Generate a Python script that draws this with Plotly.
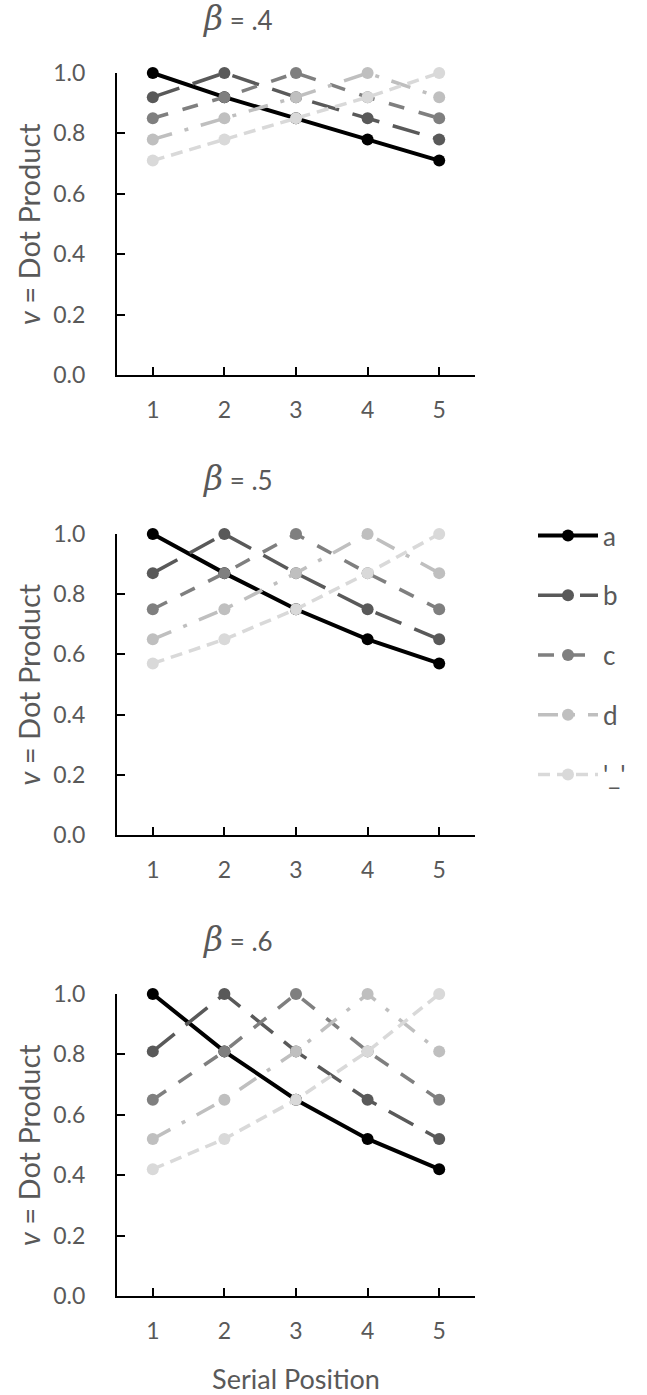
import plotly.graph_objects as go
from plotly.subplots import make_subplots

positions = [1, 2, 3, 4, 5]
series_names = ["a", "b", "c", "d", "'_'"]

# beta = .4
b04_a = [1.00, 0.92, 0.85, 0.78, 0.71]
b04_b = [0.92, 1.00, 0.92, 0.85, 0.78]
b04_c = [0.85, 0.92, 1.00, 0.92, 0.85]
b04_d = [0.78, 0.85, 0.92, 1.00, 0.92]
b04_e = [0.71, 0.78, 0.85, 0.92, 1.00]

# beta = .5
b05_a = [1.00, 0.87, 0.75, 0.65, 0.57]
b05_b = [0.87, 1.00, 0.87, 0.75, 0.65]
b05_c = [0.75, 0.87, 1.00, 0.87, 0.75]
b05_d = [0.65, 0.75, 0.87, 1.00, 0.87]
b05_e = [0.57, 0.65, 0.75, 0.87, 1.00]

# beta = .6
b06_a = [1.00, 0.81, 0.65, 0.52, 0.42]
b06_b = [0.81, 1.00, 0.81, 0.65, 0.52]
b06_c = [0.65, 0.81, 1.00, 0.81, 0.65]
b06_d = [0.52, 0.65, 0.81, 1.00, 0.81]
b06_e = [0.42, 0.52, 0.65, 0.81, 1.00]

beta_labels = [".4", ".5", ".6"]
y_title = "<i>v</i> = Dot Product"
x_title = "Serial Position"
panels = [
    [b04_a, b04_b, b04_c, b04_d, b04_e],
    [b05_a, b05_b, b05_c, b05_d, b05_e],
    [b06_a, b06_b, b06_c, b06_d, b06_e],
]

colors = ["#000000", "#595959", "#7f7f7f", "#bfbfbf", "#d9d9d9"]
dashes = ["solid", "28px,14px", "16px,15px", "20px,13px,4px,13px", "12px,7px"]
widths = [4, 3.5, 3.5, 3.5, 3.5]

W, H = 647, 1395
FONT = "Lato, Open Sans, sans-serif"
GRAY = "#595959"

fig = make_subplots(rows=3, cols=1)

for p, panel in enumerate(panels):
    for s, vals in enumerate(panel):
        fig.add_trace(
            go.Scatter(
                x=positions, y=vals, mode="lines+markers",
                name=series_names[s],
                legendgroup=series_names[s],
                showlegend=(p == 1),
                line=dict(color=colors[s], dash=dashes[s], width=widths[s]),
                marker=dict(color=colors[s], size=12),
                cliponaxis=False,
            ),
            row=p + 1, col=1,
        )

x0, x1 = 117 / W, 475 / W
tops = [73, 534, 994]
bottoms = [375, 835, 1296]

for i in range(3):
    xa = "xaxis" if i == 0 else f"xaxis{i+1}"
    ya = "yaxis" if i == 0 else f"yaxis{i+1}"
    fig.layout[xa].update(
        domain=[x0, x1], range=[0.5, 5.5], automargin=False,
        tickvals=[1, 2, 3, 4, 5, 5.5], ticktext=["1", "2", "3", "4", "5", ""],
        ticks="inside", ticklen=8, tickwidth=1.5, tickcolor="black",
        showline=True, linecolor="black", linewidth=2,
        showgrid=False, zeroline=False,
        tickfont=dict(family=FONT, size=23, color=GRAY),
        ticklabelstandoff=13,
    )
    fig.layout[ya].update(
        domain=[1 - bottoms[i] / H, 1 - tops[i] / H], range=[0, 1], automargin=False,
        tickvals=[0, 0.2, 0.4, 0.6, 0.8, 1.0], tickformat=".1f",
        ticks="inside", ticklen=8, tickwidth=1.5, tickcolor="black",
        showline=True, linecolor="black", linewidth=2,
        showgrid=False, zeroline=False,
        tickfont=dict(family=FONT, size=23, color=GRAY),
        ticklabelstandoff=25,
    )
    # y axis title
    fig.add_annotation(
        text=y_title, textangle=-90,
        x=28 / W, y=1 - ((tops[i] + bottoms[i]) / 2) / H,
        xref="paper", yref="paper", showarrow=False,
        xanchor="center", yanchor="middle",
        font=dict(family=FONT, size=29, color=GRAY),
    )
    # panel title
    fig.add_annotation(
        text=('<span style="font-family:DejaVu Serif;font-size:33px"><i>β</i></span>'
              f" = {beta_labels[i]}"),
        x=237 / W, y=1 - (tops[i] - 55) / H,
        xref="paper", yref="paper", showarrow=False,
        xanchor="center", yanchor="middle",
        font=dict(family=FONT, size=26, color=GRAY),
    )

fig.layout["xaxis3"].update(
    title=dict(text=x_title, standoff=29,
               font=dict(family=FONT, size=27, color=GRAY))
)

fig.update_layout(
    width=W, height=H,
    margin=dict(l=0, r=0, t=0, b=0, autoexpand=False),
    plot_bgcolor="white", paper_bgcolor="white",
    showlegend=True,
    legend=dict(
        x=533 / W, y=1 - 512 / H, xanchor="left", yanchor="top",
        font=dict(family=FONT, size=26, color=GRAY),
        tracegroupgap=23, bgcolor="rgba(0,0,0,0)",
        itemwidth=60,
    ),
)

fig.write_html(
    "out.html",
    config={"displayModeBar": False},
    post_script="document.body.style.margin='0';document.body.style.overflow='hidden';",
)
